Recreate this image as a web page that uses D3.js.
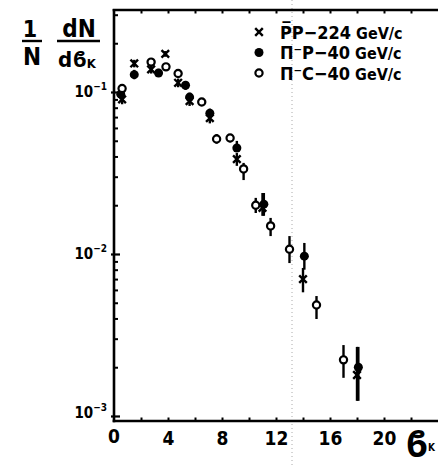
<!DOCTYPE html>
<html>
<head>
<meta charset="utf-8">
<script src="https://cdn.jsdelivr.net/npm/d3@7"></script>
<style>
  html, body { margin: 0; padding: 0; background: #fff; }
  svg { display: block; }
  text { font-family: "DejaVu Sans Condensed", "Liberation Sans Narrow", "DejaVu Sans", sans-serif; fill: #000; }
  .beta { font-family: "Noto Sans", "DejaVu Sans", sans-serif; font-weight: bold; }
</style>
</head>
<body>
<svg id="chart" width="438" height="467"></svg>
<script>
// Impact-parameter distributions 1/N dN/dϐK for three reactions

// pbar-p at 224 GeV/c (crosses)
const ppB   = [0.6, 1.5, 2.75, 3.8, 4.75, 5.6, 7.1, 9.1, 11.0, 14.0, 18.0];
const ppV   = [0.090, 0.150, 0.138, 0.172, 0.114, 0.088, 0.069, 0.0385, 0.0193, 0.0070, 0.00179];
const ppLo  = [0.084, 0.142, 0.130, 0.165, 0.107, 0.082, 0.064, 0.0350, 0.0172, 0.0058, 0.00124];
const ppHi  = [0.098, 0.158, 0.146, 0.179, 0.121, 0.094, 0.074, 0.0420, 0.0238, 0.0082, 0.00267];

// pi- p at 40 GeV/c (filled circles)
const pipB  = [0.5, 1.5, 3.3, 5.3, 5.6, 7.1, 9.1, 11.1, 14.1, 18.1];
const pipV  = [0.097, 0.128, 0.131, 0.110, 0.093, 0.074, 0.0451, 0.0203, 0.0097, 0.0020];
const pipLo = [0.090, 0.120, 0.124, 0.103, 0.087, 0.069, 0.0426, 0.0172, 0.0080, 0.00124];
const pipHi = [0.105, 0.137, 0.139, 0.117, 0.099, 0.079, 0.0499, 0.0238, 0.0117, 0.00267];

// pi- C at 40 GeV/c (open circles)
const picB  = [0.6, 2.75, 3.85, 4.75, 6.5, 7.6, 8.6, 9.6, 10.5, 11.6, 13.0, 15.0, 17.0];
const picV  = [0.105, 0.153, 0.143, 0.130, 0.0868, 0.0513, 0.052, 0.0335, 0.0200, 0.0149, 0.0107, 0.00484, 0.00222];
const picLo = [0.099, 0.146, 0.137, 0.124, 0.0830, 0.0480, 0.049, 0.0286, 0.0179, 0.0129, 0.00879, 0.00397, 0.00172];
const picHi = [0.111, 0.160, 0.149, 0.137, 0.0910, 0.0550, 0.055, 0.0365, 0.0222, 0.0167, 0.0129, 0.00550, 0.00274];

const xTickLabels = [0, 4, 8, 12, 16, 20];
const yMajorTicks = [1e-1, 1e-2, 1e-3];
const legendLabels = [
  { sym: "cross",  main: "P\u0305P\u2212224", tail: " GeV/c" },
  { sym: "dot",    main: "\u03A0\u207BP\u221240", tail: "  GeV/c" },
  { sym: "circle", main: "\u03A0\u207BC\u221240", tail: "  GeV/c" }
];

const svg = d3.select("#chart");
const plotLeft = 114, plotRight = 438, plotTop = 10, plotBottom = 421;

const x = d3.scaleLinear().domain([0, 24]).range([plotLeft, plotRight]);
const y = d3.scaleLog().domain([Math.pow(10, -0.4938), Math.pow(10, -3.031)]).range([plotTop, plotBottom]);

// faint fold line across the sheet
svg.append("line")
  .attr("x1", 292).attr("x2", 292).attr("y1", 0).attr("y2", 467)
  .attr("stroke", "#aaa").attr("stroke-width", 1).attr("stroke-dasharray", "1,3");

// frame: left, bottom, top
const frame = svg.append("g").attr("stroke", "#000").attr("stroke-width", 2.6).attr("fill", "none");
frame.append("line").attr("x1", plotLeft).attr("x2", plotLeft).attr("y1", plotTop - 1).attr("y2", plotBottom + 1.3);
frame.append("line").attr("x1", plotLeft - 1.3).attr("x2", plotRight + 2).attr("y1", plotBottom).attr("y2", plotBottom);
frame.append("line").attr("x1", plotLeft - 1.3).attr("x2", plotRight + 2).attr("y1", plotTop).attr("y2", plotTop);

// bottom axis, ticks pointing inward
const xAxis = d3.axisBottom(x)
  .tickValues(d3.range(2, 24, 2))
  .tickSizeInner(-3.5).tickSizeOuter(0).tickPadding(10)
  .tickFormat(d => xTickLabels.includes(d) ? d : "");
const gx = svg.append("g").attr("transform", `translate(0,${plotBottom})`).call(xAxis);
gx.select(".domain").remove();
gx.selectAll(".tick line").attr("stroke", "#000").attr("stroke-width", 2);
gx.selectAll(".tick text").attr("font-size", 19).attr("font-weight", "bold").attr("dy", "0.72em");
// label for 0 sits under the corner
svg.append("text").attr("x", x(0)).attr("y", 443).attr("text-anchor", "middle")
  .attr("font-size", 19).attr("font-weight", "bold").text("0");

// top ticks
const xTop = d3.axisTop(x).tickValues(d3.range(2, 24, 2)).tickSizeInner(-3.5).tickSizeOuter(0).tickFormat("");
const gt = svg.append("g").attr("transform", `translate(0,${plotTop})`).call(xTop);
gt.select(".domain").remove();
gt.selectAll(".tick line").attr("stroke", "#000").attr("stroke-width", 2);

// left axis: log ticks pointing inward
const minor = [];
[1e-3, 1e-2, 1e-1].forEach(dec => { for (let k = 2; k <= 9; k++) minor.push(dec * k); });
const yMinor = minor.filter(v => v < y.domain()[0]);
const gyMin = svg.append("g").attr("transform", `translate(${plotLeft},0)`)
  .call(d3.axisLeft(y).tickValues(yMinor).tickSizeInner(-4).tickSizeOuter(0).tickFormat(""));
gyMin.select(".domain").remove();
gyMin.selectAll(".tick line").attr("stroke", "#000").attr("stroke-width", 2);

const gyMaj = svg.append("g").attr("transform", `translate(${plotLeft},0)`)
  .call(d3.axisLeft(y).tickValues(yMajorTicks).tickSizeInner(-6).tickSizeOuter(0).tickFormat(""));
gyMaj.select(".domain").remove();
gyMaj.selectAll(".tick line").attr("stroke", "#000").attr("stroke-width", 2.2);
gyMaj.selectAll(".tick").append("line").attr("x1", 0).attr("x2", -3).attr("stroke", "#000").attr("stroke-width", 2.2);

// decade labels 10^n
const expText = { 0.1: "\u22121", 0.01: "\u22122", 0.001: "\u22123" };
yMajorTicks.forEach(v => {
  const t = svg.append("text").attr("x", 107).attr("y", y(v) + (v === 1e-3 ? 2 : 5.5))
    .attr("text-anchor", "end").attr("font-size", 15).attr("font-weight", "bold");
  t.append("tspan").text("10");
  t.append("tspan").attr("font-size", 10).attr("dy", -7).text(expText[v]);
});

// y-axis title: 1/N dN/dϐK
const yt = svg.append("g").attr("font-weight", "bold");
yt.append("text").attr("x", 30).attr("y", 37).attr("text-anchor", "middle").attr("font-size", 23).text("1");
yt.append("line").attr("x1", 22).attr("x2", 42).attr("y1", 41).attr("y2", 41).attr("stroke", "#000").attr("stroke-width", 2.4);
yt.append("text").attr("x", 32).attr("y", 65).attr("text-anchor", "middle").attr("font-size", 24).text("N");
yt.append("text").attr("x", 79).attr("y", 37).attr("text-anchor", "middle").attr("font-size", 24).text("dN");
yt.append("line").attr("x1", 57).attr("x2", 100).attr("y1", 41).attr("y2", 41).attr("stroke", "#000").attr("stroke-width", 2.4);
const dl = yt.append("text").attr("x", 58).attr("y", 67).attr("font-size", 22);
dl.append("tspan").text("d");
dl.append("tspan").attr("class", "beta").text("\u03D0");
dl.append("tspan").attr("font-size", 13).attr("dy", 1).text("K");

// x-axis title ϐK at the corner
const xt = svg.append("text").attr("x", 405).attr("y", 457).attr("font-size", 35);
xt.append("tspan").attr("class", "beta").text("\u03D0");
xt.append("tspan").attr("font-size", 10).attr("font-weight", "bold").attr("dy", -6).text("K");

// data
const series = [
  { sym: "cross",  b: ppB,  v: ppV,  lo: ppLo,  hi: ppHi },
  { sym: "dot",    b: pipB, v: pipV, lo: pipLo, hi: pipHi },
  { sym: "circle", b: picB, v: picV, lo: picLo, hi: picHi }
];

function drawSymbol(g, sym, cx, cy) {
  if (sym === "cross") {
    const s = 3.8;
    g.append("path").attr("d", `M${cx - s},${cy - s}L${cx + s},${cy + s}M${cx - s},${cy + s}L${cx + s},${cy - s}`)
      .attr("stroke", "#000").attr("stroke-width", 2.4).attr("fill", "none");
  } else if (sym === "dot") {
    g.append("circle").attr("cx", cx).attr("cy", cy).attr("r", 4.5).attr("fill", "#000");
  } else {
    g.append("circle").attr("cx", cx).attr("cy", cy).attr("r", 3.6)
      .attr("fill", "#fff").attr("stroke", "#000").attr("stroke-width", 2.2);
  }
}

const plot = svg.append("g");
series.forEach(s => {
  const g = plot.append("g");
  s.b.forEach((b, i) => {
    g.append("line").attr("x1", x(b)).attr("x2", x(b)).attr("y1", y(s.hi[i])).attr("y2", y(s.lo[i]))
      .attr("stroke", "#000").attr("stroke-width", 2.4);
  });
});
series.forEach(s => {
  const g = plot.append("g");
  s.b.forEach((b, i) => drawSymbol(g, s.sym, x(b), y(s.v[i])));
});

// legend
const lg = svg.append("g");
legendLabels.forEach((d, i) => {
  const yy = 32 + i * 20.5;
  drawSymbol(lg, d.sym, 259, yy);
  const t = lg.append("text").attr("x", 280).attr("y", yy + 6.5).attr("font-size", 18).attr("font-weight", "bold");
  t.append("tspan").text(d.main);
  t.append("tspan").attr("font-size", 16).text(d.tail);
});
</script>
</body>
</html>
